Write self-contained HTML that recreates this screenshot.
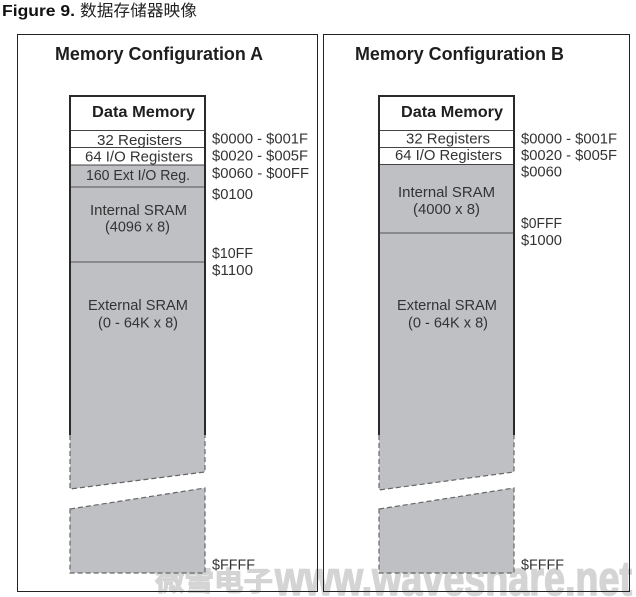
<!DOCTYPE html>
<html>
<head>
<meta charset="utf-8">
<style>
  html, body { margin: 0; padding: 0; background: #ffffff; }
  body { width: 636px; height: 597px; overflow: hidden; }
  svg { display: block; }
  .t { font-family: "Liberation Sans", Arial, sans-serif; }
  .cjk { font-family: "Liberation Sans", "Noto Sans CJK SC", sans-serif; }
  .lbl { font-size: 14.5px; fill: #333333; }
  .hdr { font-size: 16px; font-weight: bold; fill: #1e1e1e; }
  .ttl { font-size: 18px; font-weight: bold; fill: #1e1e1e; }
</style>
</head>
<body>
<svg width="636" height="597" viewBox="0 0 636 597" xmlns="http://www.w3.org/2000/svg">
  <rect x="0" y="0" width="636" height="597" fill="#ffffff"/>

  <!-- Watermark -->
  <text class="cjk" x="155" y="591" font-size="27" font-weight="bold" fill="#d4d4d4" stroke="#d4d4d4" stroke-width="1" textLength="118" lengthAdjust="spacingAndGlyphs">微雪电子</text>
  <text class="t" x="275" y="595" font-size="48" font-weight="bold" fill="#d4d4d4" stroke="#d4d4d4" stroke-width="1.5" textLength="357" lengthAdjust="spacingAndGlyphs">www.waveshare.net</text>

  <!-- Figure title -->
  <text class="t" x="2" y="16" font-size="16" font-weight="bold" fill="#111" textLength="73" lengthAdjust="spacingAndGlyphs">Figure 9.</text>
  <text class="cjk" x="80" y="16" font-size="16" fill="#222" textLength="117" lengthAdjust="spacingAndGlyphs">数据存储器映像</text>

  <!-- Outer panels -->
  <rect x="17.5" y="34.5" width="300" height="557" fill="none" stroke="#222" stroke-width="1"/>
  <rect x="323.5" y="34.5" width="306" height="557" fill="none" stroke="#222" stroke-width="1"/>

  <text class="t ttl" x="55" y="60" textLength="208" lengthAdjust="spacingAndGlyphs">Memory Configuration A</text>
  <text class="t ttl" x="355" y="60" textLength="209" lengthAdjust="spacingAndGlyphs">Memory Configuration B</text>

  <!-- ================= Config A ================= -->
  <rect x="70" y="96" width="135" height="69" fill="#ffffff"/>
  <polygon points="70,165 205,165 205,472 70,489" fill="#bfc0c4"/>
  <polygon points="70,509 205,488 205,573 70,573" fill="#bfc0c4"/>

  <line x1="70" y1="130.5" x2="205" y2="130.5" stroke="#444" stroke-width="1"/>
  <line x1="70" y1="147.5" x2="205" y2="147.5" stroke="#444" stroke-width="1"/>
  <line x1="70" y1="165" x2="205" y2="165" stroke="#444" stroke-width="1"/>
  <line x1="70" y1="187" x2="205" y2="187" stroke="#555" stroke-width="1"/>
  <line x1="70" y1="262" x2="205" y2="262" stroke="#555" stroke-width="1"/>

  <line x1="69" y1="96" x2="206" y2="96" stroke="#2a2a2a" stroke-width="2"/>
  <line x1="70" y1="95" x2="70" y2="435" stroke="#2a2a2a" stroke-width="2"/>
  <line x1="205" y1="95" x2="205" y2="435" stroke="#2a2a2a" stroke-width="2"/>

  <polyline points="70,435 70,489 205,472 205,435" fill="none" stroke="#666" stroke-width="1.2" stroke-dasharray="5,3"/>
  <polygon points="70,509 205,488 205,573 70,573" fill="none" stroke="#666" stroke-width="1.2" stroke-dasharray="5,3"/>

  <text class="t hdr" x="92" y="117" textLength="103" lengthAdjust="spacingAndGlyphs">Data Memory</text>
  <text class="t lbl" x="97" y="145" textLength="85" lengthAdjust="spacingAndGlyphs">32 Registers</text>
  <text class="t lbl" x="85" y="161.5" textLength="108" lengthAdjust="spacingAndGlyphs">64 I/O Registers</text>
  <text class="t lbl" x="86" y="180" textLength="104" lengthAdjust="spacingAndGlyphs">160 Ext I/O Reg.</text>
  <text class="t lbl" x="90" y="215" textLength="97" lengthAdjust="spacingAndGlyphs">Internal SRAM</text>
  <text class="t lbl" x="105" y="231.5" textLength="65" lengthAdjust="spacingAndGlyphs">(4096 x 8)</text>
  <text class="t lbl" x="88" y="310" textLength="100" lengthAdjust="spacingAndGlyphs">External SRAM</text>
  <text class="t lbl" x="98" y="327.5" textLength="80" lengthAdjust="spacingAndGlyphs">(0 - 64K x 8)</text>

  <text class="t lbl" x="212" y="143.5" textLength="96" lengthAdjust="spacingAndGlyphs">$0000 - $001F</text>
  <text class="t lbl" x="212" y="160.5" textLength="96" lengthAdjust="spacingAndGlyphs">$0020 - $005F</text>
  <text class="t lbl" x="212" y="178" textLength="97" lengthAdjust="spacingAndGlyphs">$0060 - $00FF</text>
  <text class="t lbl" x="212" y="199" textLength="41" lengthAdjust="spacingAndGlyphs">$0100</text>
  <text class="t lbl" x="212" y="258" textLength="41" lengthAdjust="spacingAndGlyphs">$10FF</text>
  <text class="t lbl" x="212" y="275" textLength="41" lengthAdjust="spacingAndGlyphs">$1100</text>
  <text class="t lbl" x="212" y="569.5" textLength="43" lengthAdjust="spacingAndGlyphs">$FFFF</text>

  <!-- ================= Config B ================= -->
  <rect x="379" y="96" width="135" height="69" fill="#ffffff"/>
  <polygon points="379,165 514,165 514,472 379,490" fill="#bfc0c4"/>
  <polygon points="379,509 514,488 514,573 379,573" fill="#bfc0c4"/>

  <line x1="379" y1="130.5" x2="514" y2="130.5" stroke="#444" stroke-width="1"/>
  <line x1="379" y1="147.5" x2="514" y2="147.5" stroke="#444" stroke-width="1"/>
  <line x1="379" y1="164.5" x2="514" y2="164.5" stroke="#444" stroke-width="1"/>
  <line x1="379" y1="233" x2="514" y2="233" stroke="#555" stroke-width="1"/>

  <line x1="378" y1="96" x2="515" y2="96" stroke="#2a2a2a" stroke-width="2"/>
  <line x1="379" y1="95" x2="379" y2="435" stroke="#2a2a2a" stroke-width="2"/>
  <line x1="514" y1="95" x2="514" y2="435" stroke="#2a2a2a" stroke-width="2"/>

  <polyline points="379,435 379,490 514,472 514,435" fill="none" stroke="#666" stroke-width="1.2" stroke-dasharray="5,3"/>
  <polygon points="379,509 514,488 514,573 379,573" fill="none" stroke="#666" stroke-width="1.2" stroke-dasharray="5,3"/>

  <text class="t hdr" x="401" y="117" textLength="102" lengthAdjust="spacingAndGlyphs">Data Memory</text>
  <text class="t lbl" x="406" y="143.3" textLength="84" lengthAdjust="spacingAndGlyphs">32 Registers</text>
  <text class="t lbl" x="395" y="160" textLength="107" lengthAdjust="spacingAndGlyphs">64 I/O Registers</text>
  <text class="t lbl" x="398" y="197" textLength="97" lengthAdjust="spacingAndGlyphs">Internal SRAM</text>
  <text class="t lbl" x="413" y="214" textLength="67" lengthAdjust="spacingAndGlyphs">(4000 x 8)</text>
  <text class="t lbl" x="397" y="310" textLength="100" lengthAdjust="spacingAndGlyphs">External SRAM</text>
  <text class="t lbl" x="408" y="327.5" textLength="80" lengthAdjust="spacingAndGlyphs">(0 - 64K x 8)</text>

  <text class="t lbl" x="521" y="143.3" textLength="96" lengthAdjust="spacingAndGlyphs">$0000 - $001F</text>
  <text class="t lbl" x="521" y="160" textLength="96" lengthAdjust="spacingAndGlyphs">$0020 - $005F</text>
  <text class="t lbl" x="521" y="176.5" textLength="41" lengthAdjust="spacingAndGlyphs">$0060</text>
  <text class="t lbl" x="521" y="228" textLength="41" lengthAdjust="spacingAndGlyphs">$0FFF</text>
  <text class="t lbl" x="521" y="245" textLength="41" lengthAdjust="spacingAndGlyphs">$1000</text>
  <text class="t lbl" x="521" y="569.3" textLength="43" lengthAdjust="spacingAndGlyphs">$FFFF</text>
</svg>
</body>
</html>
